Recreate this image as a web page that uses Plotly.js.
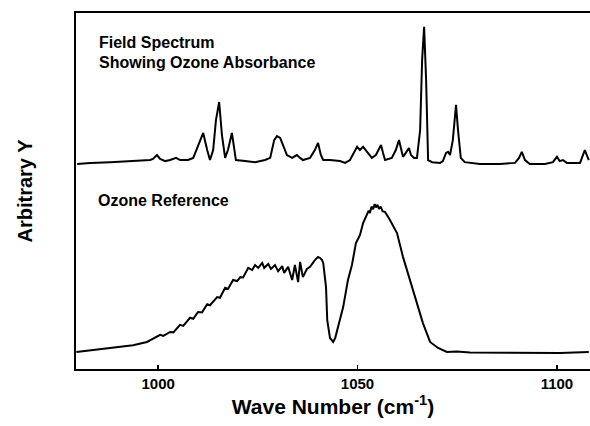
<!DOCTYPE html>
<html>
<head>
<meta charset="utf-8">
<script src="https://cdn.plot.ly/plotly-3.0.1.min.js"></script>
<style>html,body{margin:0;padding:0;background:#fff;}#chart{width:590px;height:426px;}</style>
</head>
<body>
<div id="chart"></div>
<script>
// Field spectrum (upper trace): wavenumber (cm^-1) and arbitrary signal
const fieldWN = [979.7,983.0,988.0,993.0,998.0,998.7,999.7,1000.5,1001.8,1003.0,1004.5,1005.5,1007.5,1008.8,1010.0,1011.3,1012.3,1013.0,1013.8,1014.5,1015.3,1016.0,1016.8,1017.5,1018.5,1019.0,1019.5,1021.8,1024.3,1026.8,1028.1,1029.1,1029.8,1030.6,1031.3,1032.3,1033.6,1034.8,1035.6,1036.3,1038.1,1039.3,1040.1,1040.8,1041.4,1043.1,1045.6,1046.9,1048.1,1049.1,1049.9,1050.6,1051.4,1052.4,1053.6,1054.6,1055.4,1055.9,1056.4,1056.9,1058.6,1059.6,1060.4,1060.9,1061.4,1062.1,1062.9,1063.4,1064.2,1064.9,1065.7,1066.2,1066.7,1067.2,1067.7,1068.7,1070.7,1071.4,1072.2,1072.7,1073.2,1073.9,1074.7,1075.2,1075.9,1076.9,1080.7,1085.7,1089.5,1090.5,1091.2,1092.0,1093.2,1097.0,1099.0,1100.0,1100.7,1101.5,1102.5,1105.8,1106.5,1107.0,1107.5,1108.0];
const fieldY  = [57.6,57.9,58.1,58.4,58.7,59.0,60.1,59.0,58.4,58.7,59.3,58.7,58.7,59.3,62.9,66.3,61.5,58.7,61.5,69.9,75.0,65.7,59.3,61.5,66.3,62.1,58.7,58.4,58.1,58.7,59.3,64.3,65.4,64.9,62.9,60.1,59.3,60.1,59.3,58.7,59.3,61.5,63.5,60.1,58.7,58.7,58.4,57.9,58.7,61.0,62.4,61.5,62.4,61.0,59.3,60.1,62.1,62.9,60.7,58.7,59.3,61.5,64.3,61.5,59.6,60.7,62.1,60.1,59.3,59.3,67.1,86.8,96.1,81.2,58.7,58.1,57.9,58.4,60.7,61.0,60.1,64.3,74.2,67.1,59.3,58.1,57.6,57.6,57.9,59.3,61.0,58.7,57.6,57.6,58.1,59.6,58.4,58.7,57.9,57.9,60.1,61.5,60.1,58.7];

// Ozone reference (lower trace)
const refWN = [979.5,986.2,993.7,997.2,999.7,1000.5,1001.3,1003.0,1003.8,1005.5,1006.3,1008.0,1008.8,1010.0,1011.0,1012.3,1013.0,1014.8,1015.5,1016.8,1017.5,1018.8,1019.8,1020.6,1021.3,1022.6,1023.6,1024.3,1025.1,1026.1,1026.6,1027.6,1028.3,1029.3,1030.1,1031.1,1031.6,1032.6,1033.6,1034.3,1035.1,1035.6,1036.3,1037.3,1038.1,1039.3,1040.1,1040.6,1041.1,1041.4,1042.1,1042.4,1043.1,1043.9,1044.4,1045.1,1046.4,1047.6,1048.6,1049.6,1050.6,1051.4,1052.4,1052.8,1053.1,1053.5,1053.9,1054.3,1054.6,1055.0,1055.4,1055.8,1056.3,1056.9,1058.1,1059.9,1061.4,1063.2,1064.9,1066.4,1068.2,1070.2,1072.4,1074.9,1078.2,1086.5,1095.0,1100.8,1108.0];
const refY  = [4.8,5.6,6.7,7.6,9.0,9.6,9.3,10.4,10.3,12.4,12.1,14.4,14.1,16.0,15.9,18.2,17.9,20.2,20.0,22.8,22.5,25.0,24.7,25.8,25.7,28.4,27.8,29.2,28.4,29.8,28.4,29.5,28.1,29.2,27.5,28.9,27.0,28.7,25.0,29.2,24.4,30.1,25.8,28.1,28.7,30.6,31.5,31.2,30.6,29.8,23.0,13.8,8.7,7.6,8.7,11.8,17.4,25.0,29.2,35.4,37.6,41.0,43.3,44.5,43.8,45.6,44.9,46.3,45.4,46.1,45.0,45.6,44.3,44.1,41.9,38.2,31.5,25.0,18.5,12.9,7.6,5.9,4.8,4.9,4.6,4.5,4.5,4.5,4.8];

const xTicks = [1000, 1050, 1100];
const labels = ["Field Spectrum", "Showing Ozone Absorbance", "Ozone Reference"];

const font = "Liberation Sans, Arial, Helvetica, sans-serif";
const line = {color: "#000", width: 2};

const traces = [
  {x: fieldWN, y: fieldY, type: "scatter", mode: "lines", line: line, hoverinfo: "skip"},
  {x: refWN, y: refY, type: "scatter", mode: "lines", line: line, hoverinfo: "skip"}
];

const annFont = {family: font, size: 16, weight: "bold", color: "#000"};

const layout = {
  width: 590, height: 426,
  margin: {l: 76, r: 0, t: 13, b: 57},
  paper_bgcolor: "#fff", plot_bgcolor: "#fff",
  showlegend: false,
  font: {family: font, color: "#000"},
  xaxis: {
    range: [979.4, 1108.3],
    tickvals: xTicks, ticktext: xTicks.map(String),
    ticks: "inside", ticklen: 4, tickwidth: 1.5, tickcolor: "#000",
    showline: true, linewidth: 2, linecolor: "#000", mirror: true,
    showgrid: false, zeroline: false,
    tickfont: {family: font, size: 15, weight: "bold", color: "#000"},
    title: {text: "Wave Number (cm<sup>-1</sup>)", font: {family: font, size: 21, weight: "bold", color: "#000"}, standoff: 7}
  },
  yaxis: {
    range: [0, 100],
    showticklabels: false, ticks: "",
    showline: true, linewidth: 2, linecolor: "#000", mirror: false,
    showgrid: false, zeroline: false,
    title: {text: "Arbitrary Y", font: {family: font, size: 20, weight: "bold", color: "#000"}, standoff: 36}
  },
  annotations: [
    {text: labels[0], xref: "paper", yref: "paper", x: 0.041, y: 0.916, xanchor: "left", yanchor: "middle", showarrow: false, font: annFont},
    {text: labels[1], xref: "paper", yref: "paper", x: 0.041, y: 0.860, xanchor: "left", yanchor: "middle", showarrow: false, font: annFont},
    {text: labels[2], xref: "paper", yref: "paper", x: 0.039, y: 0.472, xanchor: "left", yanchor: "middle", showarrow: false, font: annFont}
  ]
};

Plotly.newPlot("chart", traces, layout, {staticPlot: true, displayModeBar: false});
</script>
</body>
</html>
